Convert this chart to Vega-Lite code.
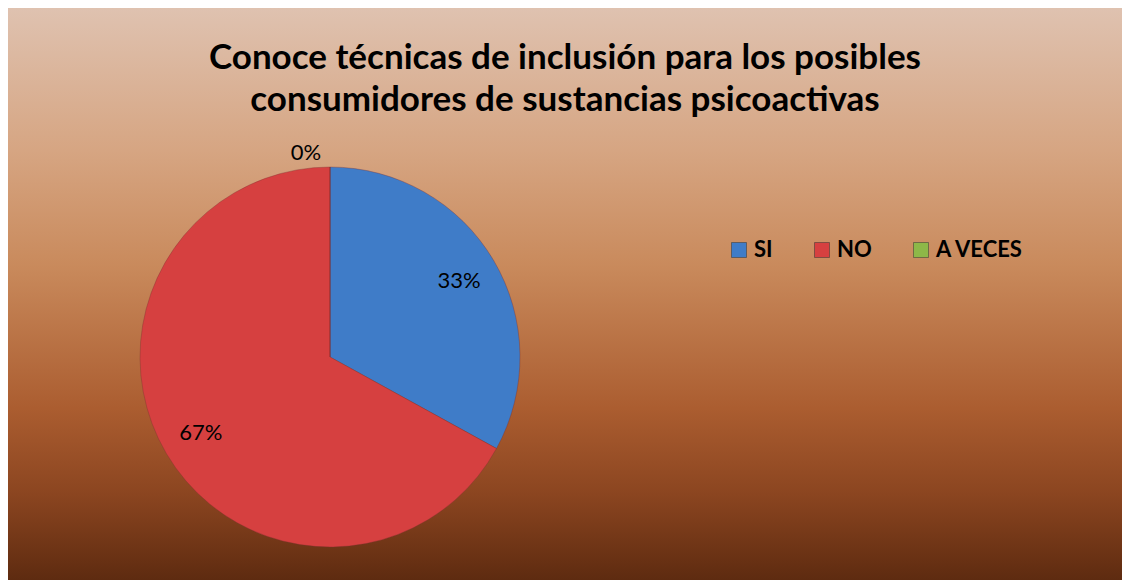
{
  "$schema": "https://vega.github.io/schema/vega-lite/v6.json",
  "width": 1114,
  "height": 572,
  "autosize": {"type": "none"},
  "padding": {"left": 8, "top": 8, "right": 0, "bottom": 0},
  "background": "white",
  "title": {
    "text": ["Conoce técnicas de inclusión para los posibles", "consumidores de sustancias psicoactivas"],
    "font": "Lato",
    "fontSize": 35,
    "fontWeight": "bold",
    "color": "black",
    "anchor": "middle",
    "baseline": "alphabetic",
    "lineHeight": 42,
    "offset": -138
  },
  "config": {
    "view": {"stroke": "#8c8c8c", "strokeWidth": 2}
  },
  "datasets": {
    "respuestas": [
      {"categoria": "SI", "valor": 33, "etiqueta": "33%"},
      {"categoria": "NO", "valor": 67, "etiqueta": "67%"},
      {"categoria": "A VECES", "valor": 0, "etiqueta": "0%"}
    ],
    "fondo": [{"fondo": 1}]
  },
  "layer": [
    {
      "data": {"name": "fondo"},
      "mark": {
        "type": "rect",
        "color": {
          "gradient": "linear",
          "x1": 0, "y1": 0, "x2": 0, "y2": 1,
          "stops": [
            {"offset": 0, "color": "#dfc2b0"},
            {"offset": 0.25, "color": "#d6a582"},
            {"offset": 0.45, "color": "#c98a5c"},
            {"offset": 0.7, "color": "#ab5d30"},
            {"offset": 0.85, "color": "#8b4520"},
            {"offset": 1, "color": "#5e2b10"}
          ]
        }
      },
      "encoding": {}
    },
    {
      "data": {"name": "respuestas"},
      "mark": {"type": "arc", "outerRadius": 190, "x": 322, "y": 349, "stroke": "#7a3030", "strokeWidth": 0.6, "strokeOpacity": 0.6},
      "encoding": {
        "theta": {"field": "valor", "type": "quantitative", "stack": true},
        "order": {"field": "categoria", "sort": "descending"},
        "color": {
          "field": "categoria",
          "type": "nominal",
          "sort": ["SI", "NO", "A VECES"],
          "scale": {"domain": ["SI", "NO", "A VECES"], "range": ["#3f7cc8", "#d64040", "#8db848"]},
          "legend": {
            "orient": "none",
            "legendX": 720,
            "legendY": 231,
            "direction": "horizontal",
            "title": null,
            "symbolType": "square",
            "symbolSize": 225,
            "symbolStrokeColor": "#333333",
            "symbolStrokeWidth": 0.5,
            "symbolOpacity": 1,
            "labelFont": "Lato",
            "labelFontSize": 22,
            "labelFontWeight": "bold",
            "labelColor": "black",
            "labelOffset": 4,
            "columnPadding": 38
          }
        }
      }
    },
    {
      "data": {"name": "respuestas"},
      "transform": [{"filter": "datum.valor > 0"}],
      "mark": {"type": "text", "radius": 150, "x": 322, "y": 349, "font": "Lato", "fontSize": 22},
      "encoding": {
        "theta": {"field": "valor", "type": "quantitative", "stack": true},
        "order": {"field": "categoria", "sort": "descending"},
        "text": {"field": "etiqueta"},
        "color": {"value": "black"}
      }
    },
    {
      "data": {"name": "respuestas"},
      "transform": [{"filter": "datum.valor == 0"}],
      "mark": {"type": "text", "radius": 204, "x": 322, "y": 349, "dx": -24, "font": "Lato", "fontSize": 22},
      "encoding": {
        "theta": {"field": "valor", "type": "quantitative", "stack": true},
        "text": {"field": "etiqueta"},
        "color": {"value": "black"}
      }
    }
  ]
}
